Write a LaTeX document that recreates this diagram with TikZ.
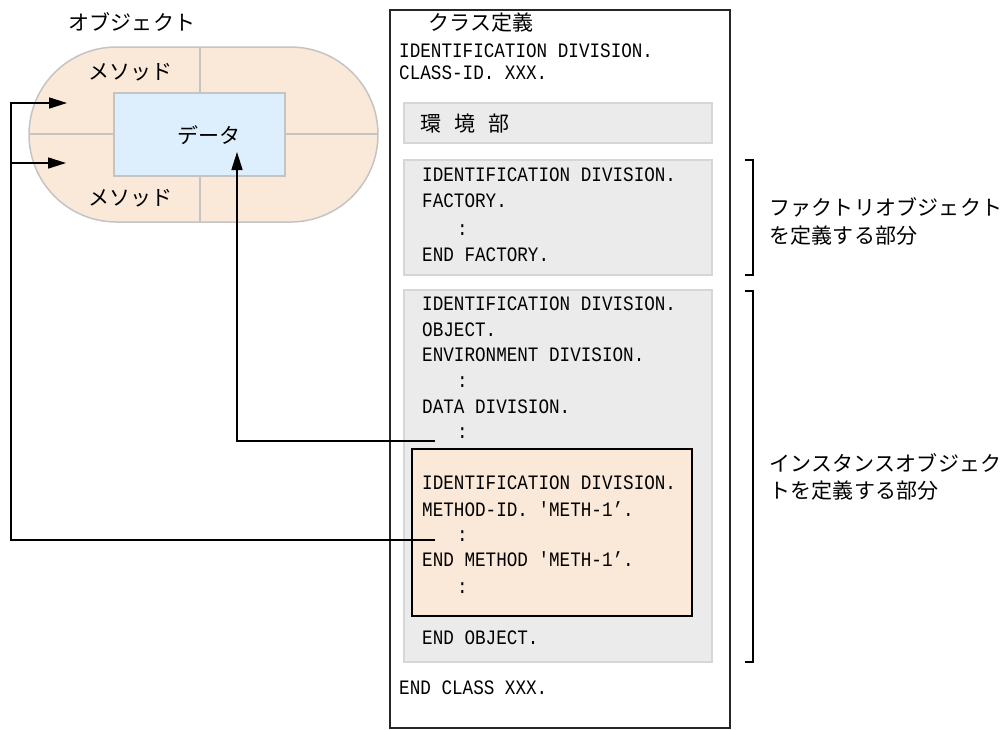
\documentclass[tikz,border=0pt]{standalone}
\usepackage{fontspec}
\setmonofont[FakeStretch=0.86]{Liberation Mono}
\newfontfamily\jpfam[LetterSpace=1]{Noto Sans CJK JP}
\usetikzlibrary{arrows.meta}
\newcommand\codefont{\ttfamily\fontsize{20.5}{22}\selectfont}
\newcommand\jpfont{\jpfam\fontsize{21}{23}\selectfont}
\definecolor{peach}{HTML}{FAE8D8}
\definecolor{lblue}{HTML}{DDEEFC}
\definecolor{gfill}{HTML}{EBEBEB}
\definecolor{gline}{HTML}{D6D6D6}
\definecolor{oline}{HTML}{C4C4C4}
\tikzset{
  code/.style={font=\codefont, anchor=base west, inner sep=0pt},
  jtext/.style={font=\jpfont, anchor=base west, inner sep=0pt},
  graybox/.style={fill=gfill, draw=gline, line width=1.5pt},
  objpart/.style={draw=oline, line width=1.5pt},
  conn/.style={line width=1.6pt, black},
  arr/.style={conn, -{Triangle[length=18pt,width=11pt]}},
  brk/.style={line width=1.3pt, black}
}
\begin{document}
\begin{tikzpicture}[x=1pt,y=-1pt]
\useasboundingbox (0,0) rectangle (1004,729);

% ---------- object (left) ----------
\node[jtext] (objtitle) at (68,30) {オブジェクト};
\draw[objpart, fill=peach, rounded corners=87.5pt] (29,47) rectangle (378,222);
\draw[objpart] (200,47) -- (200,93);
\draw[objpart] (200,176) -- (200,222);
\draw[objpart] (29,134) -- (114,134);
\draw[objpart] (285,134) -- (378,134);
\draw[objpart, fill=lblue] (114,93) rectangle (285,176);
\node[jtext] (meth1) at (88,79) {メソッド};
\node[jtext] (meth2) at (88,205) {メソッド};
\node[jtext] (data) at (177,143) {データ};

% ---------- class definition ----------
\draw[line width=1.5pt, black!85] (390,10) rectangle (730,728);
\node[jtext] (ctitle) at (428,30) {クラス定義};
\node[code] (c1) at (399,57) {IDENTIFICATION DIVISION.};
\node[code] (c2) at (399,79) {CLASS-ID. XXX.};

\draw[graybox] (404,103) rectangle (712,143);
\node[jtext] (env) at (420,131) {環\hspace{13pt}境\hspace{13pt}部};

\draw[graybox] (404,160) rectangle (712,275);
\node[code] (f1) at (422,181) {IDENTIFICATION DIVISION.};
\node[code] (f2) at (422,207) {FACTORY.};
\node[code] (f3) at (457,235) {:};
\node[code] (f4) at (422,261) {END FACTORY.};

\draw[graybox] (404,290) rectangle (712,662);
\node[code] (o1) at (422,310) {IDENTIFICATION DIVISION.};
\node[code] (o2) at (422,336) {OBJECT.};
\node[code] (o3) at (422,361) {ENVIRONMENT DIVISION.};
\node[code] (o4) at (457,387) {:};
\node[code] (o5) at (422,413) {DATA DIVISION.};
\node[code] (o6) at (457,438) {:};

\draw[fill=peach, draw=black, line width=1.6pt] (412,449) rectangle (692,616);
\node[code] (m1) at (422,489) {IDENTIFICATION DIVISION.};
\node[code] (m2) at (422,516) {METHOD-ID. 'METH-1’.};
\node[code] (m3) at (457,541) {:};
\node[code] (m4) at (422,566) {END METHOD 'METH-1’.};
\node[code] (m5) at (457,593) {:};

\node[code] (o7) at (422,644) {END OBJECT.};
\node[code] (c3) at (399,694) {END CLASS XXX.};

% ---------- brackets and labels ----------
\draw[brk] (745,160) -- (753,160) -- (753,275) -- (745,275);
\draw[brk] (745,291) -- (753,291) -- (753,662) -- (745,662);
\node[jtext] (fl1) at (769,215) {ファクトリオブジェクト};
\node[jtext] (fl2) at (769,243) {を定義する部分};
\node[jtext] (il1) at (769,471) {インスタンスオブジェク};
\node[jtext] (il2) at (769,498) {トを定義する部分};

% ---------- connectors ----------
\coordinate (dsrc) at (435,441);
\coordinate (dtip) at (237,152);
\draw[arr] (dsrc) -| (dtip);

\coordinate (msrc) at (435,540);
\coordinate (lc1) at (11,103);
\coordinate (lc2) at (11,163);
\coordinate (mtip1) at (67,103);
\coordinate (mtip2) at (66,163);
\draw[arr] (msrc) -| (lc1) -- (mtip1);
\draw[arr] (lc2) -- (mtip2);
\end{tikzpicture}
\end{document}
